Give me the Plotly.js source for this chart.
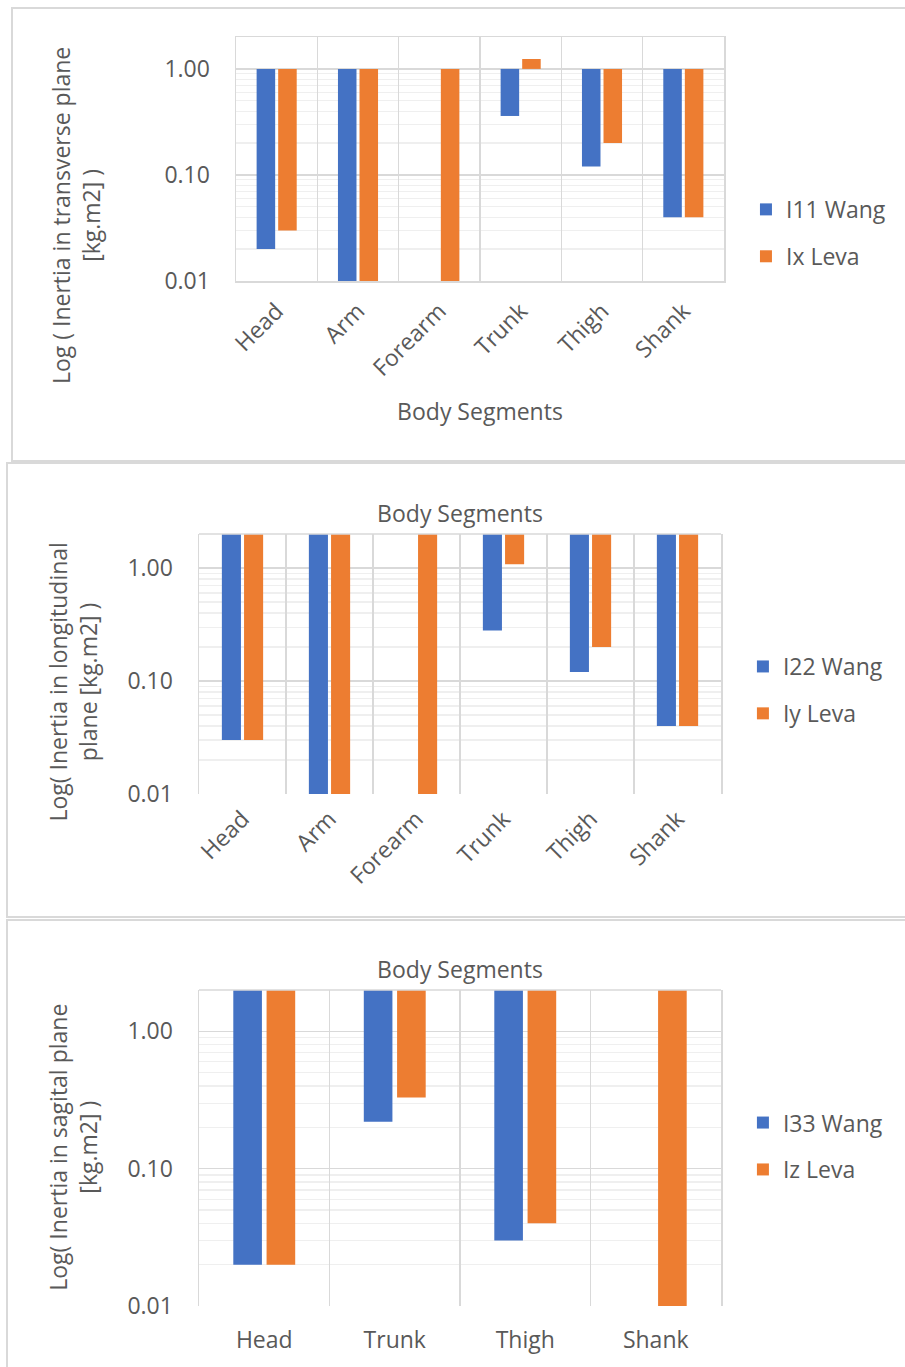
<!DOCTYPE html>
<html>
<head>
<meta charset="utf-8">
<script src="https://cdn.plot.ly/plotly-3.0.1.min.js"></script>
<style>
  html, body { margin: 0; padding: 0; background: #ffffff; }
  body { position: relative; width: 905px; height: 1367px; overflow: hidden; }
  .frame { position: absolute; box-sizing: border-box; border: 2px solid #d9d9d9; background: #ffffff; }
  .plot { position: absolute; left: 0; }
</style>
</head>
<body>
<div class="frame" style="left:11px; top:7px; width:910px; height:455px;"></div>
<div class="frame" style="left:6px; top:462px; width:910px; height:456px;"></div>
<div class="frame" style="left:6px; top:919px; width:910px; height:460px;"></div>
<div id="chart1" class="plot" style="top:0px; width:905px; height:460px;"></div>
<div id="chart2" class="plot" style="top:462px; width:905px; height:455px;"></div>
<div id="chart3" class="plot" style="top:919px; width:905px; height:448px;"></div>
<script>
// Moments of inertia per body segment [kg.m2], Wang vs. Leva
const segments6 = ['Head', 'Arm', 'Forearm', 'Trunk', 'Thigh', 'Shank'];
const segments4 = ['Head', 'Trunk', 'Thigh', 'Shank'];

// Transverse plane
const i11Wang = [0.02, 0.01, null, 0.36, 0.12, 0.04];
const ixLeva  = [0.03, 0.01, 0.01, 1.24, 0.20, 0.04];

// Longitudinal plane
const i22Wang = [0.03, 0.01, null, 0.28, 0.12, 0.04];
const iyLeva  = [0.03, 0.01, 0.01, 1.08, 0.20, 0.04];

// Sagittal plane
const i33Wang = [0.02, 0.22, 0.03, null];
const izLeva  = [0.02, 0.33, 0.04, 0.01];

const yTickVals = [0.01, 0.1, 1];
const yTickText = ['0.01', '0.10', '1.00'];

const BLUE = '#4472C4';
const ORANGE = '#ED7D31';
const GRID = '#d9d9d9';
const MINOR = '#efefef';
const TEXT = '#595959';
const FONT = 'Open Sans, Segoe UI, sans-serif';
const FS = 23;

// minor gridlines at 2..9 of each decade
const minorVals = [];
[0.01, 0.1, 1].forEach(d => { for (let k = 2; k <= 9; k++) minorVals.push(d * k); });

// bars hang from a crossing value: base + (value - base) ends at value
function hang(values, base) {
  return values.map(v => (v === null ? null : v - base));
}

function barTrace(cats, values, base, name, color, group) {
  return {
    type: 'bar',
    x: cats,
    y: hang(values, base),
    base: base,
    name: name,
    legendgroup: group,
    marker: { color: color, line: { width: 0 } },
    hoverinfo: 'skip'
  };
}

function baseLayout(opts) {
  return {
    width: 905,
    height: opts.height,
    margin: opts.margin,
    paper_bgcolor: 'rgba(0,0,0,0)',
    plot_bgcolor: 'rgba(0,0,0,0)',
    font: { family: FONT, color: TEXT, size: FS },
    barmode: 'group',
    bargap: opts.bargap,
    bargroupgap: 0.14,
    showlegend: true,
    legend: {
      x: opts.legendX, xanchor: 'left',
      y: opts.legendY, yanchor: 'middle',
      font: { family: FONT, color: TEXT, size: FS },
      tracegroupgap: 14,
      bgcolor: 'rgba(0,0,0,0)'
    },
    xaxis: {
      type: 'category',
      tickson: 'boundaries',
      showgrid: true,
      gridcolor: GRID,
      gridwidth: 1.5,
      ticks: '',
      tickangle: opts.tickangle,
      ticklabelstandoff: opts.xStandoff,
      tickfont: { family: FONT, color: TEXT, size: FS },
      showline: opts.xLine,
      mirror: opts.xLine ? 'all' : false,
      linecolor: GRID,
      linewidth: 1.5,
      zeroline: false,
      automargin: false,
      fixedrange: true,
      title: opts.xTitle ? { text: opts.xTitle, standoff: opts.xTitleStandoff, font: { family: FONT, color: TEXT, size: FS } } : { text: '' }
    },
    yaxis: {
      type: 'log',
      range: [-2, Math.log10(2)],
      tickmode: 'array',
      tickvals: yTickVals,
      ticktext: yTickText,
      ticks: '',
      ticklabelstandoff: 20,
      tickfont: { family: FONT, color: TEXT, size: FS },
      showgrid: true,
      gridcolor: GRID,
      gridwidth: 1.5,
      minor: { tickmode: 'array', tickvals: minorVals, showgrid: true, gridcolor: MINOR, gridwidth: 1.2, ticks: '' },
      showline: true,
      mirror: true,
      linecolor: GRID,
      linewidth: 1.5,
      zeroline: false,
      automargin: false,
      fixedrange: true,
      title: { text: '' }
    },
    title: opts.topTitle ? {
      text: opts.topTitle,
      x: 0.5, xref: 'paper', xanchor: 'center',
      y: opts.topTitleY, yref: 'container', yanchor: 'middle',
      font: { family: FONT, color: TEXT, size: FS }
    } : { text: '' },
    // value-axis title, placed beside the tick labels
    annotations: [{
      text: opts.yTitle,
      textangle: -90,
      xref: 'paper', yref: 'paper',
      x: opts.yTitleX, y: opts.yTitleY,
      xanchor: 'center', yanchor: 'middle',
      showarrow: false,
      align: 'center',
      font: { family: FONT, color: TEXT, size: FS }
    }],
    shapes: opts.topLine ? [{
      type: 'line', xref: 'paper', yref: 'paper', x0: 0, x1: 1, y0: 1, y1: 1,
      line: { color: GRID, width: 1.5 }
    }] : []
  };
}

const config = { staticPlot: true, displayModeBar: false };

// Chart 1: transverse plane, bars hang from 1.00
Plotly.newPlot('chart1', [
  barTrace(segments6, i11Wang, 1, 'I11 Wang', BLUE, 'a'),
  barTrace(segments6, ixLeva, 1, 'Ix Leva', ORANGE, 'b')
], baseLayout({
  height: 460,
  margin: { l: 236, r: 181, t: 37, b: 179 },
  bargap: 0.47,
  legendX: 1.045, legendY: 0.197,
  tickangle: -45, xStandoff: 6, xLine: true,
  xTitle: 'Body Segments', xTitleStandoff: 22,
  yTitle: 'Log ( Inertia in transverse plane<br>[kg.m2] )', yTitleX: -0.328, yTitleY: 0.27,
  topLine: false
}), config);

// Chart 2: longitudinal plane, bars hang from the top of the axis
Plotly.newPlot('chart2', [
  barTrace(segments6, i22Wang, 2, 'I22 Wang', BLUE, 'a'),
  barTrace(segments6, iyLeva, 2, 'Iy Leva', ORANGE, 'b')
], baseLayout({
  height: 455,
  margin: { l: 199, r: 184, t: 72, b: 123 },
  bargap: 0.49,
  legendX: 1.042, legendY: 0.40,
  tickangle: -45, xStandoff: 6, xLine: false,
  xTitle: null,
  yTitle: 'Log( Inertia in longitudinal<br>plane [kg.m2] )', yTitleX: -0.242, yTitleY: 0.431,
  topTitle: 'Body Segments', topTitleY: 1 - 52 / 455,
  topLine: true
}), config);

// Chart 3: sagittal plane, bars hang from the top of the axis
Plotly.newPlot('chart3', [
  barTrace(segments4, i33Wang, 2, 'I33 Wang', BLUE, 'a'),
  barTrace(segments4, izLeva, 2, 'Iz Leva', ORANGE, 'b')
], baseLayout({
  height: 448,
  margin: { l: 199, r: 184, t: 71, b: 61 },
  bargap: 0.49,
  legendX: 1.042, legendY: 0.506,
  tickangle: 0, xStandoff: 18, xLine: false,
  xTitle: null,
  yTitle: 'Log( Inertia in sagital plane<br>[kg.m2] )', yTitleX: -0.242, yTitleY: 0.503,
  topTitle: 'Body Segments', topTitleY: 1 - 51 / 448,
  topLine: true
}), config);
</script>
</body>
</html>
